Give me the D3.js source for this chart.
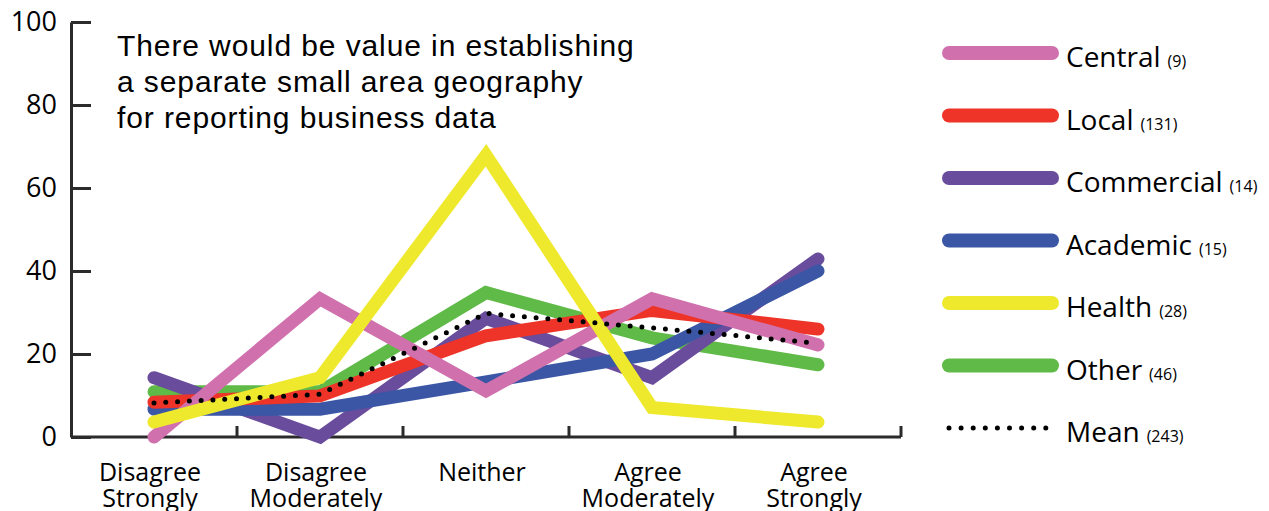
<!DOCTYPE html>
<html>
<head>
<meta charset="utf-8">
<script src="https://cdn.jsdelivr.net/npm/d3@7"></script>
<style>
  html, body { margin: 0; padding: 0; background: #fff; }
  svg { display: block; }
</style>
</head>
<body>
<svg id="chart" width="1269" height="511"></svg>
<script>
// ---------------- data ----------------
const categories = ["Disagree Strongly", "Disagree Moderately", "Neither", "Agree Moderately", "Agree Strongly"];
const yTicks = [0, 20, 40, 60, 80, 100];
const titleLines = ["There would be value in establishing", "a separate small area geography", "for reporting business data"];

const seriesNames = ["Central", "Local", "Commercial", "Academic", "Health", "Other", "Mean"];
const seriesCounts = [9, 131, 14, 15, 28, 46, 243];
const seriesColors = ["#d070ac", "#ee3428", "#6a4c9c", "#3a56a5", "#eee92c", "#5fba47", "#000000"];

const central    = [0, 33.3, 11.1, 33.3, 22.2];
const local      = [8.4, 9.9, 24.4, 30.5, 26.0];
const commercial = [14.3, 0, 28.6, 14.3, 42.9];
const academic   = [6.7, 6.7, 13.3, 20.0, 40.0];
const health     = [3.6, 14.3, 67.9, 7.1, 3.6];
const other      = [10.9, 10.9, 34.8, 23.9, 17.4];
const mean       = [8.2, 10.3, 29.8, 26.3, 22.6];

const seriesValues = [central, local, commercial, academic, health, other, mean];
// drawing order (bottom -> top)
const drawOrder = ["Other", "Commercial", "Academic", "Local", "Central", "Health", "Mean"];

// ---------------- layout ----------------
const svg = d3.select("#chart");
const axisColor = "#2b2b2b";

const x = d3.scaleBand().domain(categories).range([71, 901]).paddingInner(0).paddingOuter(0);
const y = d3.scaleLinear().domain([0, 100]).range([437, 22]);
const cx = c => x(c) + x.bandwidth() / 2;

// Y axis
const yAxis = d3.axisLeft(y).tickValues(yTicks).tickSizeInner(-20).tickSizeOuter(0).tickPadding(14);
const gy = svg.append("g").attr("transform", "translate(71,0)").call(yAxis);
gy.select(".domain").attr("stroke", axisColor).attr("stroke-width", 3);
gy.selectAll(".tick line").attr("stroke", axisColor).attr("stroke-width", 3);
gy.selectAll(".tick text")
  .attr("font-family", "'Open Sans', sans-serif")
  .attr("font-size", 27)
  .attr("fill", "#000");

// X axis line + tick marks at band boundaries
svg.append("line")
  .attr("x1", x.range()[0]).attr("x2", x.range()[1])
  .attr("y1", y(0)).attr("y2", y(0))
  .attr("stroke", axisColor).attr("stroke-width", 3);
svg.append("g").selectAll("line")
  .data(categories)
  .join("line")
  .attr("x1", d => x(d) + x.bandwidth()).attr("x2", d => x(d) + x.bandwidth())
  .attr("y1", y(0)).attr("y2", y(0) - 11)
  .attr("stroke", axisColor).attr("stroke-width", 3);

// X labels (two lines each)
const xl = svg.append("g").selectAll("text")
  .data(categories)
  .join("text")
  .attr("x", d => cx(d) - 4)
  .attr("y", 481)
  .attr("text-anchor", "middle")
  .attr("font-family", "'Open Sans', sans-serif")
  .attr("font-size", 25)
  .attr("fill", "#000");
xl.each(function(d) {
  const words = d.split(" ");
  const t = d3.select(this);
  words.forEach((w, i) => {
    t.append("tspan").attr("x", cx(d) - 4).attr("dy", i === 0 ? 0 : 26).text(w);
  });
});

// Title
svg.append("g").selectAll("text")
  .data(titleLines)
  .join("text")
  .attr("x", 117)
  .attr("y", (d, i) => 56 + i * 36)
  .attr("font-family", "'Liberation Sans', Arial, sans-serif")
  .attr("font-size", 30)
  .attr("letter-spacing", 0.9)
  .attr("fill", "#000")
  .text(d => d);

// Lines
const line = d3.line().x((d, i) => cx(categories[i])).y(d => y(d));
const lineG = svg.append("g");
drawOrder.forEach(name => {
  const idx = seriesNames.indexOf(name);
  const p = lineG.append("path")
    .datum(seriesValues[idx])
    .attr("d", line)
    .attr("fill", "none")
    .attr("stroke", seriesColors[idx]);
  if (name === "Mean") {
    p.attr("stroke-width", 5).attr("stroke-linecap", "round").attr("stroke-dasharray", "0 11.8");
  } else {
    p.attr("stroke-width", 13).attr("stroke-linecap", "round").attr("stroke-linejoin", "miter");
  }
});

// Legend
const leg = svg.append("g").selectAll("g")
  .data(seriesNames)
  .join("g")
  .attr("transform", (d, i) => `translate(0, ${53 + i * 62.5})`);
leg.append("line")
  .attr("x1", 949)
  .attr("x2", (d) => d === "Mean" ? 1046 : 1052)
  .attr("y1", 0).attr("y2", 0)
  .attr("stroke", (d, i) => seriesColors[i])
  .attr("stroke-width", d => d === "Mean" ? 5 : 14)
  .attr("stroke-linecap", "round")
  .attr("stroke-dasharray", d => d === "Mean" ? "0 12.1" : null);
const lt = leg.append("text")
  .attr("x", 1066)
  .attr("y", 14)
  .attr("font-family", "'Open Sans', sans-serif")
  .attr("fill", "#000");
lt.append("tspan").attr("font-size", 28).text(d => d);
lt.append("tspan").attr("font-size", 16).attr("dx", 7).text((d, i) => "(" + seriesCounts[i] + ")");
</script>
</body>
</html>
